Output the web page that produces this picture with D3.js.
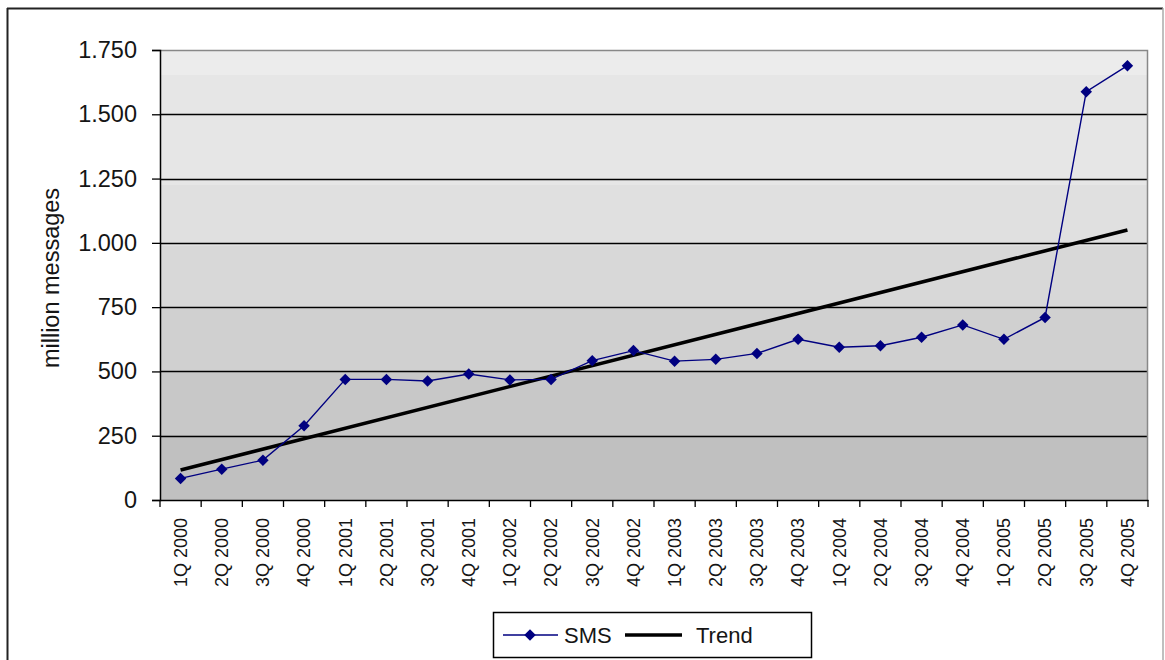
<!DOCTYPE html>
<html>
<head>
<meta charset="utf-8">
<script src="https://cdn.jsdelivr.net/npm/d3@7"></script>
<style>
  html, body { margin: 0; padding: 0; background: #fff; }
  svg { display: block; font-family: "Liberation Sans", Arial, sans-serif; }
</style>
</head>
<body>
<svg id="chart" width="1165" height="660"></svg>
<script>
// Quarterly SMS traffic, million messages
const quarters = [
  "1Q 2000", "2Q 2000", "3Q 2000", "4Q 2000",
  "1Q 2001", "2Q 2001", "3Q 2001", "4Q 2001",
  "1Q 2002", "2Q 2002", "3Q 2002", "4Q 2002",
  "1Q 2003", "2Q 2003", "3Q 2003", "4Q 2003",
  "1Q 2004", "2Q 2004", "3Q 2004", "4Q 2004",
  "1Q 2005", "2Q 2005", "3Q 2005", "4Q 2005"
];
const smsValues = [
  84, 120, 155, 289,
  469, 469, 463, 490,
  467, 469, 542, 581,
  540, 547, 570, 625,
  594, 600, 633, 681,
  625, 710, 1588, 1689
];
const yTicks = [0, 250, 500, 750, 1000, 1250, 1500, 1750];
const seriesNames = ["SMS", "Trend"];

// Least-squares trend line over the quarter index
const n = smsValues.length;
const xs = d3.range(1, n + 1);
const xMean = d3.mean(xs), yMean = d3.mean(smsValues);
const slope = d3.sum(xs, (x, i) => (x - xMean) * (smsValues[i] - yMean)) /
              d3.sum(xs, x => (x - xMean) * (x - xMean));
const intercept = yMean - slope * xMean;
const trendEnds = [
  { q: quarters[0], v: intercept + slope * xs[0] },
  { q: quarters[n - 1], v: intercept + slope * xs[n - 1] }
];

const svg = d3.select("#chart");
const plot = { left: 160, right: 1148, top: 50, bottom: 500 };

const x = d3.scaleBand().domain(quarters).range([plot.left, plot.right]).padding(0);
const y = d3.scaleLinear().domain([0, 1750]).range([plot.bottom, plot.top]);
const cx = q => x(q) + x.bandwidth() / 2;

const locale = d3.formatLocale({ decimal: ",", thousands: ".", grouping: [3], currency: ["", ""] });
const fmt = locale.format(",d");

// Outer chart frame
svg.append("line").attr("x1", 7).attr("y1", 8.5).attr("x2", 1163).attr("y2", 8.5)
  .attr("stroke", "#222").attr("stroke-width", 2);
svg.append("line").attr("x1", 7.5).attr("y1", 8).attr("x2", 7.5).attr("y2", 660)
  .attr("stroke", "#222").attr("stroke-width", 2);
svg.append("line").attr("x1", 1163).attr("y1", 8).attr("x2", 1163).attr("y2", 660)
  .attr("stroke", "#aaa").attr("stroke-width", 1.5);

// Stepped grey gradient fill of the plot area
const defs = svg.append("defs");
const grad = defs.append("linearGradient").attr("id", "plotFill")
  .attr("x1", 0).attr("y1", 0).attr("x2", 0).attr("y2", 1);
const bands = [
  [0.000, 0.055, "#ececec"],
  [0.055, 0.300, "#e6e6e6"],
  [0.300, 0.435, "#e0e0e0"],
  [0.435, 0.575, "#d8d8d8"],
  [0.575, 0.715, "#d0d0d0"],
  [0.715, 0.855, "#c8c8c8"],
  [0.855, 1.000, "#c0c0c0"]
];
bands.forEach(([a, b, c]) => {
  grad.append("stop").attr("offset", a).attr("stop-color", c);
  grad.append("stop").attr("offset", b).attr("stop-color", c);
});
svg.append("rect")
  .attr("x", plot.left).attr("y", plot.top)
  .attr("width", plot.right - plot.left).attr("height", plot.bottom - plot.top)
  .attr("fill", "url(#plotFill)");

// Horizontal gridlines
svg.append("g").selectAll("line")
  .data(yTicks.filter(v => v > 0 && v < 1750))
  .join("line")
  .attr("x1", plot.left).attr("x2", plot.right)
  .attr("y1", d => Math.round(y(d)) + 0.5).attr("y2", d => Math.round(y(d)) + 0.5)
  .attr("stroke", "#000").attr("stroke-width", 1.3);

// Plot area top and right edges
svg.append("path")
  .attr("d", `M${plot.left},${plot.top + 0.5}H${plot.right - 0.5}V${plot.bottom}`)
  .attr("fill", "none").attr("stroke", "#888").attr("stroke-width", 1.5);

// Y axis
const yAxis = svg.append("g")
  .attr("transform", `translate(${plot.left},0)`)
  .call(d3.axisLeft(y).tickValues(yTicks).tickFormat(fmt).tickSize(8).tickPadding(15));
yAxis.select(".domain").attr("stroke", "#000").attr("stroke-width", 1.5);
yAxis.selectAll(".tick line").attr("stroke", "#000").attr("stroke-width", 1.3);
yAxis.selectAll(".tick text").attr("font-size", 23.5).attr("fill", "#151515")
  .attr("font-family", "Liberation Sans, Arial, sans-serif");

// X axis: tick marks on category boundaries, labels rotated under each band
const xAxis = svg.append("g")
  .attr("transform", `translate(0,${plot.bottom})`)
  .call(d3.axisBottom(x).tickSize(0).tickFormat(""));
xAxis.select(".domain").attr("stroke", "#000").attr("stroke-width", 1.5);
xAxis.selectAll(".tick").remove();
const boundaries = quarters.map(q => x(q)).concat([plot.right]);
xAxis.selectAll("line.boundary")
  .data(boundaries)
  .join("line").attr("class", "boundary")
  .attr("x1", d => d).attr("x2", d => d)
  .attr("y1", 0).attr("y2", 7)
  .attr("stroke", "#000").attr("stroke-width", 1.3);
xAxis.selectAll("text.qlabel")
  .data(quarters)
  .join("text").attr("class", "qlabel")
  .attr("transform", d => `translate(${cx(d)},18) rotate(-90)`)
  .attr("text-anchor", "end")
  .attr("dy", "0.35em")
  .attr("font-size", 18)
  .attr("fill", "#151515")
  .text(d => d);

// Axis title
svg.append("text")
  .attr("transform", "translate(59,278) rotate(-90)")
  .attr("text-anchor", "middle")
  .attr("font-size", 23.5)
  .attr("fill", "#151515")
  .text("million messages");

// Trend line between first and last quarter
svg.append("path")
  .datum(trendEnds)
  .attr("d", d3.line().x(d => cx(d.q)).y(d => y(d.v)))
  .attr("fill", "none").attr("stroke", "#000").attr("stroke-width", 3.6);

// SMS series
const smsLine = d3.line().x((d, i) => cx(quarters[i])).y(d => y(d));
svg.append("path")
  .datum(smsValues)
  .attr("d", smsLine)
  .attr("fill", "none").attr("stroke", "#000080").attr("stroke-width", 1.4);

const diamond = d3.symbol().type(d3.symbolSquare).size(66);
svg.append("g").selectAll("path")
  .data(smsValues)
  .join("path")
  .attr("d", diamond)
  .attr("transform", (d, i) => `translate(${cx(quarters[i])},${y(d)}) rotate(45)`)
  .attr("fill", "#000080");

// Legend
const legend = svg.append("g");
legend.append("rect")
  .attr("x", 493.5).attr("y", 612.5).attr("width", 318).attr("height", 45)
  .attr("fill", "#fff").attr("stroke", "#000").attr("stroke-width", 1.5);
legend.append("line")
  .attr("x1", 503).attr("x2", 558).attr("y1", 635).attr("y2", 635)
  .attr("stroke", "#000080").attr("stroke-width", 1.4);
legend.append("path")
  .attr("d", diamond)
  .attr("transform", "translate(530,635) rotate(45)")
  .attr("fill", "#000080");
legend.append("text")
  .attr("x", 564).attr("y", 635).attr("dy", "0.35em")
  .attr("font-size", 22).attr("fill", "#151515")
  .text(seriesNames[0]);
legend.append("line")
  .attr("x1", 625).attr("x2", 682).attr("y1", 635).attr("y2", 635)
  .attr("stroke", "#000").attr("stroke-width", 3.6);
legend.append("text")
  .attr("x", 696).attr("y", 635).attr("dy", "0.35em")
  .attr("font-size", 22).attr("fill", "#151515")
  .text(seriesNames[1]);
</script>
</body>
</html>
